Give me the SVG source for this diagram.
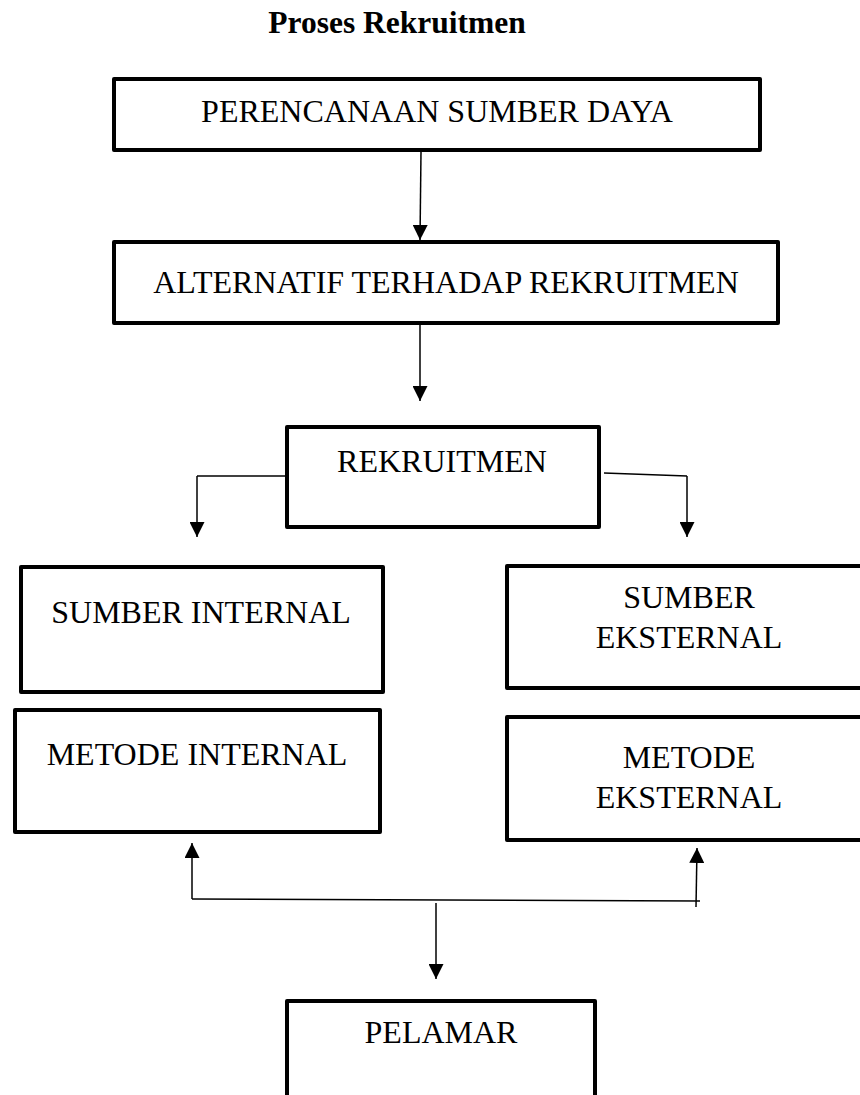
<svg xmlns="http://www.w3.org/2000/svg" width="860" height="1095" viewBox="0 0 860 1095">
<defs>
<marker id="arr" markerUnits="userSpaceOnUse" markerWidth="15" markerHeight="15" refX="15" refY="7.5" orient="auto">
<path d="M0,0 L15,7.5 L0,15 z" fill="#000"/>
</marker>
<style>
.box{fill:#fff;stroke:#000;stroke-width:4;stroke-linejoin:round}
.t{font-family:"Liberation Serif","Times New Roman",serif;font-size:32px;fill:#000;text-anchor:middle}
.title{font-family:"Liberation Serif","Times New Roman",serif;font-size:31.5px;font-weight:bold;fill:#000;text-anchor:middle}
.c{fill:none;stroke:#000;stroke-width:1.5}
.a{fill:none;stroke:#000;stroke-width:1.5;marker-end:url(#arr)}
</style>
</defs>
<rect width="860" height="1095" fill="#fff"/>
<text class="title" x="397" y="33">Proses Rekruitmen</text>

<g id="perencanaan">
<rect class="box" x="114" y="79" width="646" height="71"/>
<text class="t" x="437" y="122">PERENCANAAN SUMBER DAYA</text>
</g>
<g id="alternatif">
<rect class="box" x="114" y="242" width="664" height="81"/>
<text class="t" x="446" y="293">ALTERNATIF TERHADAP REKRUITMEN</text>
</g>
<g id="rekruitmen">
<rect class="box" x="287" y="427" width="312" height="100"/>
<text class="t" x="442" y="472">REKRUITMEN</text>
</g>
<g id="sumber-internal">
<rect class="box" x="21" y="567" width="362" height="125"/>
<text class="t" x="201" y="623">SUMBER INTERNAL</text>
</g>
<g id="metode-internal">
<rect class="box" x="15" y="710" width="365" height="122"/>
<text class="t" x="197" y="765">METODE INTERNAL</text>
</g>
<g id="sumber-eksternal">
<rect class="box" x="507" y="566" width="364" height="122"/>
<text class="t" x="689" y="608">SUMBER</text>
<text class="t" x="689" y="648">EKSTERNAL</text>
</g>
<g id="metode-eksternal">
<rect class="box" x="507" y="717" width="364" height="123"/>
<text class="t" x="689" y="768">METODE</text>
<text class="t" x="689" y="808">EKSTERNAL</text>
</g>
<g id="pelamar">
<rect class="box" x="287" y="1001" width="308" height="130"/>
<text class="t" x="441" y="1043">PELAMAR</text>
</g>

<g id="connectors">
<line class="a" x1="421" y1="152" x2="420" y2="240"/>
<line class="a" x1="420" y1="325" x2="420" y2="401"/>
<polyline class="c" points="287,476 197,476"/>
<line class="a" x1="197" y1="476" x2="197" y2="537"/>
<polyline class="c" points="604,473 687,476"/>
<line class="a" x1="687" y1="476" x2="687" y2="537"/>
<line class="a" x1="192" y1="899" x2="192" y2="843"/>
<line class="c" x1="192" y1="899" x2="700" y2="901"/>
<line class="a" x1="696" y1="907" x2="697" y2="848"/>
<line class="a" x1="436" y1="903" x2="436" y2="979"/>
</g>
</svg>
